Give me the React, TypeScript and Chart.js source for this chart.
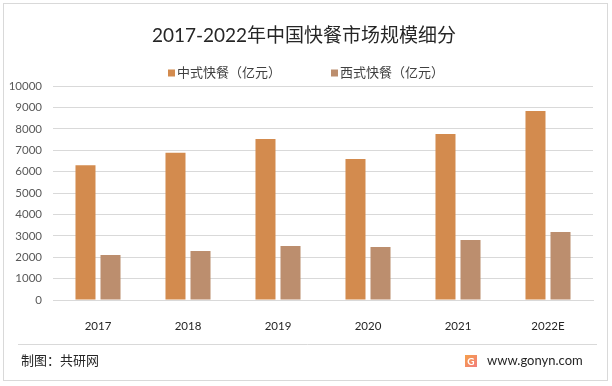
import React, { useEffect, useRef } from "react";
import { Chart, registerables } from "chart.js";

Chart.register(...registerables);

const categories = ["2017", "2018", "2019", "2020", "2021", "2022E"];
const chineseFastFood = [6300, 6880, 7520, 6590, 7760, 8830];
const westernFastFood = [2100, 2290, 2520, 2480, 2800, 3180];
const seriesNames = ["中式快餐（亿元）", "西式快餐（亿元）"];
const seriesColors = ["#D38B4E", "#BC8E6E"];
const titleText = "2017-2022年中国快餐市场规模细分";
const footerLeft = "制图：共研网";
const footerRight = "www.gonyn.com";

const FONT = "Lato, 'Noto Sans CJK SC', sans-serif";

const decorPlugin = {
  id: "decor",
  beforeDraw(chart: any) {
    const ctx = chart.ctx;
    ctx.save();
    ctx.fillStyle = "#ffffff";
    ctx.fillRect(0, 0, chart.width, chart.height);
    ctx.restore();
  },
  afterDraw(chart: any) {
    const ctx = chart.ctx;
    ctx.save();
    // outer border
    ctx.strokeStyle = "#d9d9d9";
    ctx.lineWidth = 1;
    ctx.strokeRect(3.5, 3.5, 604, 377);
    // separator
    ctx.beginPath();
    ctx.moveTo(18, 344.5);
    ctx.lineTo(597, 344.5);
    ctx.stroke();

    // title
    ctx.fillStyle = "#262626";
    ctx.font = `19px ${FONT}`;
    ctx.textAlign = "center";
    ctx.textBaseline = "middle";
    ctx.fillText(titleText, 304, 36);

    // legend
    ctx.font = `13px ${FONT}`;
    ctx.textAlign = "left";
    const w1 = ctx.measureText(seriesNames[0]).width + 9;
    const w2 = ctx.measureText(seriesNames[1]).width + 9;
    const gap = 50;
    let x = 306 - (w1 + gap + w2) / 2;
    const ly = 73;
    [w1, w2].forEach((w, i) => {
      ctx.fillStyle = seriesColors[i];
      ctx.fillRect(x, ly - 3.5, 7, 7);
      ctx.fillStyle = "#404040";
      ctx.fillText(seriesNames[i], x + 9, ly);
      x += w + gap;
    });

    // footer
    ctx.fillStyle = "#262626";
    ctx.font = `13px ${FONT}`;
    ctx.textAlign = "left";
    ctx.fillText(footerLeft, 21, 361);
    // logo
    const g = ctx.createLinearGradient(465, 355, 477, 367);
    g.addColorStop(0, "#F5A04A");
    g.addColorStop(1, "#F27C7C");
    ctx.fillStyle = g;
    ctx.fillRect(465, 355, 12, 12);
    ctx.fillStyle = "#ffffff";
    ctx.font = `bold 10px ${FONT}`;
    ctx.textAlign = "center";
    ctx.fillText("G", 471, 361.5);
    ctx.fillStyle = "#262626";
    ctx.font = `13px ${FONT}`;
    ctx.textAlign = "left";
    ctx.fillText(footerRight, 487, 361);
    ctx.restore();
  },
};

export default function App() {
  const ref = useRef<HTMLCanvasElement>(null);
  useEffect(() => {
    if (!ref.current) return;
    const chart = new Chart(ref.current, {
      type: "bar",
      data: {
        labels: categories,
        datasets: [
          {
            label: seriesNames[0],
            data: chineseFastFood,
            backgroundColor: seriesColors[0],
            categoryPercentage: 0.556,
            barPercentage: 0.8,
          },
          {
            label: seriesNames[1],
            data: westernFastFood,
            backgroundColor: seriesColors[1],
            categoryPercentage: 0.556,
            barPercentage: 0.8,
          },
        ],
      },
      plugins: [decorPlugin],
      options: {
        animation: false,
        responsive: false,
        devicePixelRatio: 1,
        layout: { padding: { left: 0, right: 19, top: 86, bottom: 41 } },
        plugins: {
          legend: { display: false },
          title: { display: false },
          tooltip: { enabled: false },
        },
        scales: {
          x: {
            grid: { display: false },
            border: { color: "#d9d9d9" },
            ticks: {
              color: "#262626",
              font: { family: FONT, size: 11.5 },
              padding: 11,
            },
            afterFit(scale: any) {
              scale.height = 45;
            },
          },
          y: {
            min: 0,
            max: 10000,
            ticks: {
              stepSize: 1000,
              color: "#595959",
              font: { family: FONT, size: 11.5 },
              padding: 11,
              callback: (v: any) => String(v),
            },
            grid: { color: "#d9d9d9", drawTicks: false },
            border: { display: false },
            afterFit(scale: any) {
              scale.width = 53;
            },
          },
        },
      },
    });
    return () => chart.destroy();
  }, []);
  return (
    <div style={{ position: "absolute", left: 0, top: 0, width: 612, height: 386 }}>
      <canvas ref={ref} width={612} height={386} style={{ width: 612, height: 386 }} />
    </div>
  );
}
